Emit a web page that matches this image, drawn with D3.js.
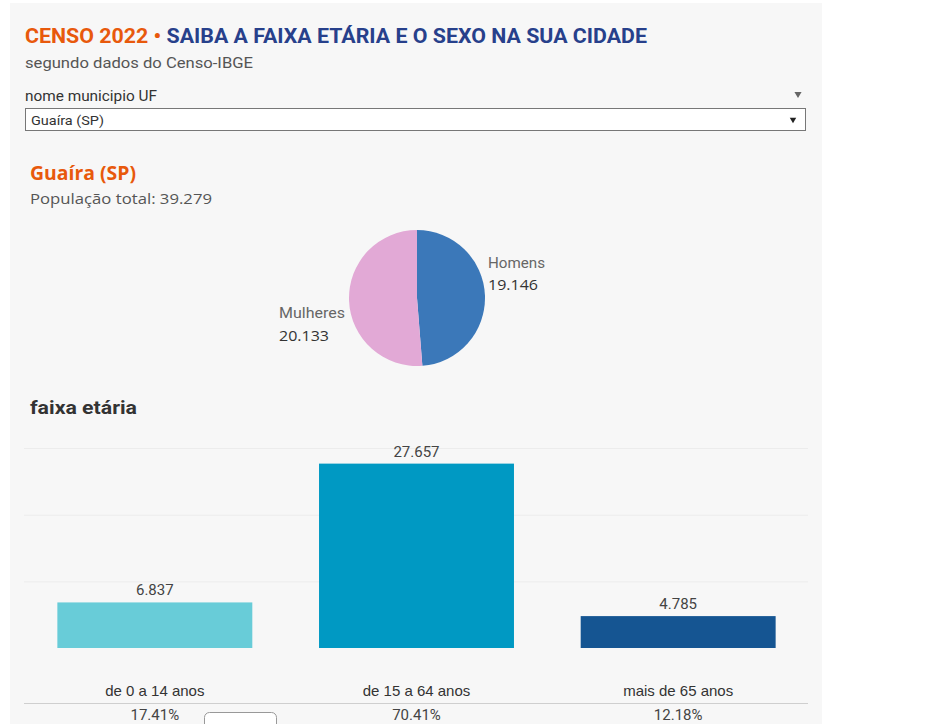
<!DOCTYPE html>
<html>
<head>
<meta charset="utf-8">
<script src="https://cdn.jsdelivr.net/npm/d3@7"></script>
<style>
  html, body { margin: 0; padding: 0; background: #ffffff; overflow: hidden; }
  svg { display: block; }
  text { font-family: "Liberation Sans Narrow", "Roboto", "Open Sans", sans-serif; }
</style>
</head>
<body>
<div id="chart"></div>
<script>
// ---- data ----
const titleA = "CENSO 2022 \u2022";
const titleB = "SAIBA A FAIXA ET\u00c1RIA E O SEXO NA SUA CIDADE";
const subtitle = "segundo dados do Censo-IBGE";
const filterLabel = "nome municipio UF";
const cityName = "Gua\u00edra (SP)";
const totalLabel = "Popula\u00e7\u00e3o total: 39.279";
const sexCategories = ["Homens", "Mulheres"];
const sexValues = [19146, 20133];
const sexLabels = ["19.146", "20.133"];
const ageCategories = ["de 0 a 14 anos", "de 15 a 64 anos", "mais de 65 anos"];
const ageValues = [6837, 27657, 4785];
const ageValueLabels = ["6.837", "27.657", "4.785"];
const agePercents = ["17.41%", "70.41%", "12.18%"];
const yTicks = [0, 10000, 20000, 30000];

const W = 930, H = 724;
const svg = d3.select("#chart").append("svg").attr("width", W).attr("height", H);

// panel
svg.append("rect").attr("x", 10).attr("y", 3).attr("width", 812).attr("height", H)
  .attr("fill", "#f7f7f7");

function fit(sel, target) {
  sel.each(function () {
    const w = this.getComputedTextLength();
    if (w > 0 && Math.abs(w - target) > 2) {
      d3.select(this).attr("textLength", target).attr("lengthAdjust", "spacingAndGlyphs");
    }
  });
  return sel;
}

// title
const t = svg.append("text").attr("x", 25).attr("y", 43)
  .attr("font-size", 21).attr("font-weight", "bold");
t.append("tspan").attr("fill", "#e8590c").text(titleA + " ");
t.append("tspan").attr("fill", "#27408b").text(titleB);
fit(t, 622);

fit(svg.append("text").attr("x", 25).attr("y", 68).attr("font-size", 15)
  .attr("fill", "#555").text(subtitle), 228);

fit(svg.append("text").attr("x", 25).attr("y", 101).attr("font-size", 14)
  .attr("fill", "#333").text(filterLabel), 132);

const tri = d3.symbol().type(d3.symbolTriangle).size(22);
svg.append("path").attr("d", tri).attr("transform", "translate(798,94) rotate(180)").attr("fill", "#666");

svg.append("rect").attr("x", 25.5).attr("y", 108.5).attr("width", 780).attr("height", 22)
  .attr("fill", "#fff").attr("stroke", "#777");
fit(svg.append("text").attr("x", 31).attr("y", 125).attr("font-size", 13)
  .attr("fill", "#333").text(cityName), 73);
svg.append("path").attr("d", d3.symbol().type(d3.symbolTriangle).size(18))
  .attr("transform", "translate(793,119.5) rotate(180)").attr("fill", "#222");

// city header
fit(svg.append("text").attr("x", 30).attr("y", 180).attr("font-size", 19)
  .attr("font-weight", "bold").attr("fill", "#e8590c")
  .style("font-family", "'Open Sans', sans-serif").text(cityName), 106);
fit(svg.append("text").attr("x", 30).attr("y", 204).attr("font-size", 14)
  .attr("fill", "#555").style("font-family", "'Open Sans', sans-serif").text(totalLabel), 182);

// pie
const pieData = d3.pie().sort(null).startAngle(0).endAngle(2 * Math.PI)(sexValues);
const arc = d3.arc().innerRadius(0).outerRadius(68);
const sexColor = d3.scaleOrdinal().domain(sexCategories).range(["#3b78b9", "#e2a9d6"]);
const pieG = svg.append("g").attr("transform", "translate(417,298)");
pieG.selectAll("path").data(pieData).join("path")
  .attr("d", arc).attr("fill", (d, i) => sexColor(sexCategories[i]));

const pieLabelPos = [[488, 268, 290], [279, 318, 341]];
const labelWidths = [[57, 50], [66, 50]];
sexCategories.forEach((c, i) => {
  const [x, y1, y2] = pieLabelPos[i];
  fit(svg.append("text").attr("x", x).attr("y", y1).attr("font-size", 14)
    .attr("fill", "#666").text(c), labelWidths[i][0]);
  fit(svg.append("text").attr("x", x).attr("y", y2).attr("font-size", 14)
    .attr("fill", "#333").style("font-family", "'Open Sans', sans-serif").text(sexLabels[i]), labelWidths[i][1]);
});

// bar chart
fit(svg.append("text").attr("x", 30).attr("y", 414).attr("font-size", 19)
  .attr("font-weight", "bold").attr("fill", "#333").text("faixa et\u00e1ria"), 107);

const x = d3.scaleBand().domain(ageCategories).range([24, 809]).paddingInner(0.255).paddingOuter(0.1275);
const y = d3.scaleLinear().domain([0, 30000]).range([648, 448]);
const ageColor = d3.scaleOrdinal().domain(ageCategories).range(["#68ccd8", "#0099c3", "#155592"]);

const grid = svg.append("g")
  .call(d3.axisLeft(y).tickValues(yTicks.slice(1)).tickSize(-(808 - 24)).tickFormat(""))
  .attr("transform", "translate(24,0)");
grid.select(".domain").remove();
grid.selectAll(".tick line").attr("stroke", "#ececec").attr("stroke-width", 1);

svg.append("g").selectAll("rect").data(ageValues).join("rect")
  .attr("x", (d, i) => x(ageCategories[i]))
  .attr("width", x.bandwidth())
  .attr("y", d => y(d))
  .attr("height", d => y(0) - y(d))
  .attr("fill", (d, i) => ageColor(ageCategories[i]));

svg.append("g").selectAll("text").data(ageValues).join("text")
  .attr("x", (d, i) => x(ageCategories[i]) + x.bandwidth() / 2)
  .attr("y", d => y(d) - 7)
  .attr("text-anchor", "middle").attr("font-size", 15).attr("fill", "#444")
  .text((d, i) => ageValueLabels[i]);

const xAxis = svg.append("g").attr("transform", "translate(0,648)")
  .call(d3.axisBottom(x).tickSize(0).tickPadding(48));
xAxis.select(".domain").remove();
xAxis.selectAll("text").attr("font-size", 15).attr("fill", "#333")
  .style("font-family", "'Liberation Sans Narrow', sans-serif").attr("dy", 0);

svg.append("line").attr("x1", 24).attr("x2", 808).attr("y1", 703.5).attr("y2", 703.5)
  .attr("stroke", "#cfcfcf");

svg.append("rect").attr("x", 204.5).attr("y", 712.5).attr("width", 72).attr("height", 24)
  .attr("rx", 5).attr("fill", "#fff").attr("stroke", "#999");

svg.append("g").selectAll("text").data(agePercents).join("text")
  .attr("x", (d, i) => x(ageCategories[i]) + x.bandwidth() / 2)
  .attr("y", 720).attr("text-anchor", "middle").attr("font-size", 15).attr("fill", "#444")
  .text(d => d);
</script>
</body>
</html>
